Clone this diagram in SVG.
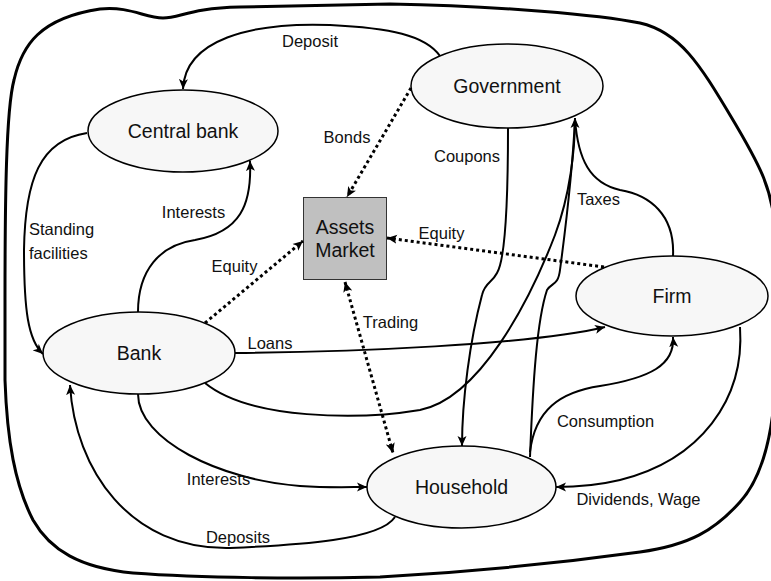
<svg xmlns="http://www.w3.org/2000/svg" width="771" height="581" viewBox="0 0 771 581">
<defs>
<style>
.node{fill:#f7f7f7;stroke:#000;stroke-width:1.5}
.box{fill:#c0c0c0;stroke:#333;stroke-width:1}
.nl{font-family:"Liberation Sans",Arial,sans-serif;font-size:19.5px;fill:#111;text-anchor:middle}
.el{font-family:"Liberation Sans",Arial,sans-serif;font-size:16.5px;fill:#111;text-anchor:middle}
.c{fill:none;stroke:#000;stroke-width:2}
.d{fill:none;stroke:#000;stroke-width:3;stroke-dasharray:3 3}
.b{fill:none;stroke:#000;stroke-width:3}
</style>
<marker id="a" markerUnits="userSpaceOnUse" markerWidth="12" markerHeight="10" refX="10" refY="5" orient="auto-start-reverse">
<path d="M0,0.5 L10,5 L0,9.5 L2.5,5 Z" fill="#000"/>
</marker>
</defs>
<path class="b" d="M5,300 C5,200 6,110 14,80 C22,45 40,18 100,9 C130,6 145,18 163,18 C180,18 190,8 240,7 L390,4 C500,6 600,15 640,23 C680,32 700,65 730,115 C760,165 774,190 776,240 L776,370 C774,440 760,480 740,502 C715,530 690,545 640,552 C560,563 470,572 380,577 C300,579 200,578 133,573 C80,568 50,550 33,520 C15,485 7,440 5,380 Z"/>
<g id="central-bank"><ellipse class="node" cx="183" cy="131" rx="95" ry="41"/><text class="nl" x="183" y="138">Central bank</text></g>
<g id="government"><ellipse class="node" cx="507" cy="86" rx="96" ry="42"/><text class="nl" x="507" y="93">Government</text></g>
<g id="assets-market"><rect class="box" x="303.5" y="197.5" width="83" height="82"/><text class="nl" x="345" y="234">Assets</text><text class="nl" x="345" y="257">Market</text></g>
<g id="firm"><ellipse class="node" cx="672" cy="296" rx="96" ry="40"/><text class="nl" x="672" y="303">Firm</text></g>
<g id="bank"><ellipse class="node" cx="139" cy="353" rx="96" ry="41"/><text class="nl" x="139" y="360">Bank</text></g>
<g id="household"><ellipse class="node" cx="461.5" cy="487" rx="94.5" ry="41"/><text class="nl" x="461.5" y="494">Household</text></g>
<g id="connectors">
<path class="c" marker-end="url(#a)" d="M440,56 C425,35 390,28 330,25 C250,22 185,40 183,89"/>
<path class="c" marker-end="url(#a)" d="M87,133 C40,140 25,180 24,250 C24,310 28,340 43,354"/>
<path class="c" marker-end="url(#a)" d="M138,312 C138,270 160,245 195,240 C240,232 252,205 250,161"/>
<path class="c" marker-end="url(#a)" d="M235,353 C350,352 530,345 605,327"/>
<path class="c" marker-end="url(#a)" d="M205,383 C250,420 360,420 420,410 C480,398 530,300 555,235 C570,195 575,150 575,118"/>
<path class="c" marker-end="url(#a)" d="M508,128 C508,200 505,260 497,273 C492,283 485,282 482,295 C470,340 462,400 462,446"/>
<path class="c" d="M530,457 C533,380 537,320 547,290 C552,282 558,286 560,270 C568,210 573,160 575,119"/>
<path class="c" d="M673,256 C675,215 650,195 620,190 C590,183 578,160 575,119"/>
<path class="c" marker-end="url(#a)" d="M530,452 C535,410 560,392 600,386 C650,378 675,365 673,337"/>
<path class="c" marker-end="url(#a)" d="M740,327 C745,400 700,460 620,480 C595,486 575,487 556,487"/>
<path class="c" marker-end="url(#a)" d="M138,394 C138,440 220,480 300,486 C330,488 350,487 367,487"/>
<path class="c" marker-end="url(#a)" d="M395,517 C380,540 300,545 230,548 C130,550 75,470 70,385"/>
<path class="d" marker-end="url(#a)" d="M411,88 L347,197"/>
<path class="d" marker-end="url(#a)" d="M205,323 L303,241"/>
<path class="d" marker-end="url(#a)" d="M604,267 L387,238"/>
<path class="d" marker-start="url(#a)" marker-end="url(#a)" d="M345,282 L393,453"/>
</g>
<g id="labels">
<text class="el" x="310" y="47">Deposit</text>
<text class="el" x="347" y="143">Bonds</text>
<text class="el" x="193.5" y="218">Interests</text>
<text class="el" x="29" y="235" style="text-anchor:start">Standing</text>
<text class="el" x="29" y="259" style="text-anchor:start">facilities</text>
<text class="el" x="234.5" y="272">Equity</text>
<text class="el" x="467" y="162">Coupons</text>
<text class="el" x="598.5" y="205">Taxes</text>
<text class="el" x="441.5" y="239">Equity</text>
<text class="el" x="270" y="349">Loans</text>
<text class="el" x="390.5" y="328">Trading</text>
<text class="el" x="218.5" y="485">Interests</text>
<text class="el" x="238" y="543">Deposits</text>
<text class="el" x="605.5" y="427">Consumption</text>
<text class="el" x="638.5" y="505">Dividends, Wage</text>
</g>
</svg>
